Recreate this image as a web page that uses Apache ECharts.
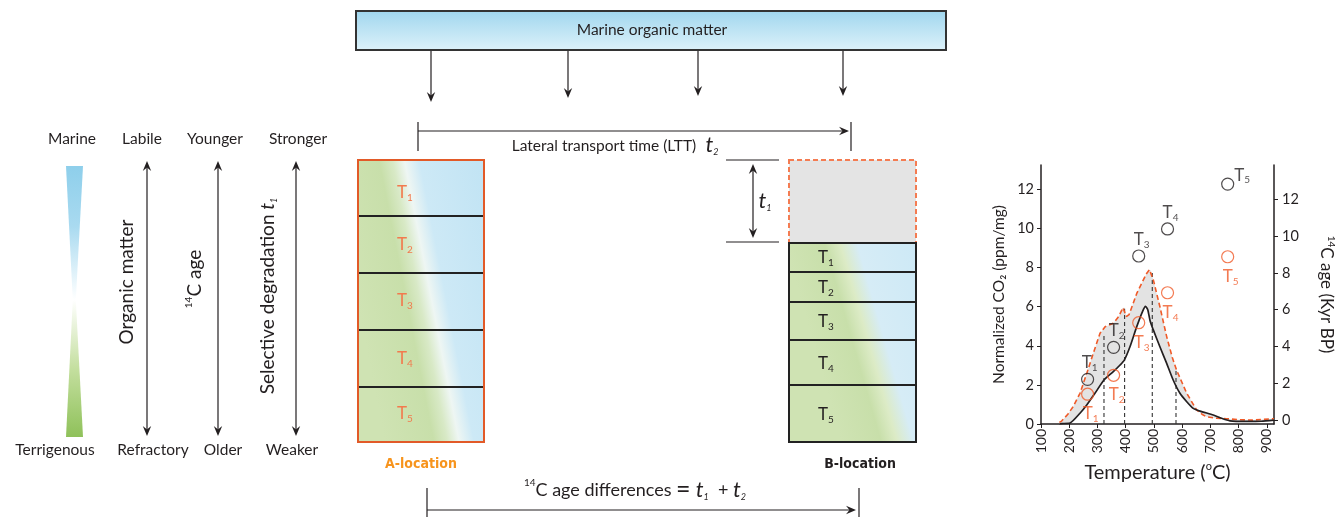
<!DOCTYPE html>
<html><head><meta charset="utf-8">
<script src="https://cdn.jsdelivr.net/npm/echarts@6/dist/echarts.min.js"></script>
<style>html,body{margin:0;padding:0;background:#fff}#c{width:1338px;height:517px}</style>
</head><body><div id="c"></div>
<script>
// ---------- data ----------
const blackTemp = [165,173,203,238,262,291,323,356,380,395,415,439,459,470,478,486,498,521,545,568,592,616,639,663,710,734,769,828,880,925];
const blackCO2  = [0,0.02,0.05,0.55,0.97,1.57,2.25,2.68,3.02,3.27,3.95,4.98,5.74,6.02,5.85,5.3,4.8,3.95,3.1,2.25,1.57,1.14,0.8,0.66,0.46,0.32,0.16,0.13,0.14,0.2];
const redTemp = [165,173,195,214,238,262,285,309,327,356,375,390,396,402,412,439,460,474,484,488,498,521,545,565,580,600,616,651,670,686,720,757,800,850,925];
const redCO2  = [0.08,0.15,0.5,0.89,1.57,2.59,3.61,4.64,4.98,5.15,5.5,5.95,5.95,5.5,5.6,6.68,7.3,7.7,7.9,7.87,7.36,6.0,4.47,3.4,2.76,2.1,1.57,0.72,0.5,0.37,0.3,0.27,0.22,0.2,0.27];
const dashTemp = [323,396,494,578];
const dashTop  = [4.6,5.9,7.8,2.8];
const sampleTemp = [265,357,446,548,761];
const sampleNames = ['1','2','3','4','5'];
const ageB = [2.21,3.95,8.92,10.39,12.83];   // black circles
const ageA = [1.40,2.43,5.29,6.92,8.88];     // orange circles
const xTicks = [100,200,300,400,500,600,700,800,900];
const yTicks = [0,2,4,6,8,10,12];

// ---------- styling ----------
const FF = 'Lato, "Open Sans", "Noto Sans", sans-serif';
const INK = '#231f20';
const ORANGE = '#f05a28';

// ---------- diagram graphic helpers ----------
const G = [];
function L(x1,y1,x2,y2,w,c,dash){ G.push({type:'line',silent:true,shape:{x1,y1,x2,y2},style:{stroke:c||INK,lineWidth:w||1.2,lineDash:dash||null}}); }
function head(x,y,dir){
  const l=10,h=4.2,n=3.5; let p;
  if(dir==='down') p=[[x,y],[x-h,y-l],[x,y-l+n],[x+h,y-l]];
  if(dir==='up') p=[[x,y],[x-h,y+l],[x,y+l-n],[x+h,y+l]];
  if(dir==='right') p=[[x,y],[x-l,y-h],[x-l+n,y],[x-l,y+h]];
  G.push({type:'polygon',silent:true,shape:{points:p},style:{fill:INK}});
}
function TX(text,x,y,o){
  o=o||{};
  G.push({type:'text',silent:true,x,y,rotation:o.rot||0,z:10,style:{text,x:0,y:0,fill:o.fill||INK,fontSize:o.size||15.5,fontFamily:o.ff||FF,fontWeight:o.weight||'normal',fontStyle:o.style||'normal',align:o.align||'center',verticalAlign:'middle',rich:o.rich||undefined}});
}
function R(x,y,w,h,style){ G.push({type:'rect',silent:true,shape:{x,y,width:w,height:h},style}); }

// left legend bar (hourglass gradient)
G.push({type:'polygon',silent:true,shape:{points:[[66,166],[83,166],[75.8,300],[72.8,300]]},style:{fill:{type:'linear',x:0,y:0,x2:0,y2:1,colorStops:[{offset:0,color:'#8ecfeb'},{offset:0.45,color:'#a9daf0'},{offset:1,color:'#ffffff'}]}}});
G.push({type:'polygon',silent:true,shape:{points:[[72.8,300],[75.8,300],[83,437],[66,437]]},style:{fill:{type:'linear',x:0,y:0,x2:0,y2:1,colorStops:[{offset:0,color:'#ffffff'},{offset:0.5,color:'#c4df9f'},{offset:1,color:'#8fc15a'}]}}});
TX('Marine',72,139); TX('Terrigenous',55,450);
TX('Labile',142,139); TX('Refractory',153,450);
TX('Younger',215,139); TX('Older',223,450);
TX('Stronger',298,139); TX('Weaker',292,450);
[147,218,296].forEach(x=>{ L(x,166,x,431,1.2); head(x,161,'up'); head(x,436,'down'); });
TX('Organic matter',127,282,{rot:Math.PI/2,size:19});
TX('{sp|14}{n|C age}',195,279,{rot:Math.PI/2,rich:{sp:{fontSize:10,fontFamily:FF,fill:INK,verticalAlign:'top',lineHeight:22},n:{fontSize:19,fontFamily:FF,fill:INK,lineHeight:22}}});
TX('{n|Selective degradation }{i|t}{s|1}',268,296,{rot:Math.PI/2,rich:{n:{fontSize:19,fontFamily:FF,fill:INK,lineHeight:22},i:{fontSize:19,fontFamily:FF,fontStyle:'italic',fill:INK,lineHeight:22},s:{fontSize:9,fontFamily:FF,fontStyle:'italic',fill:INK,verticalAlign:'bottom',lineHeight:22}}});

// marine organic matter box
R(356,11,590,39,{fill:{type:'linear',x:0,y:0,x2:0,y2:1,colorStops:[{offset:0,color:'#9fd6ee'},{offset:1,color:'#def2fa'}]},stroke:'#333',lineWidth:2});
TX('Marine organic matter',652,30,{size:15.5});
const downX=[431,568,698,843], downTip=[102,98,96,96];
downX.forEach((x,i)=>{ L(x,51,x,downTip[i]-6,1.2); head(x,downTip[i],'down'); });

// LTT arrow
L(418,122,418,151); L(851,122,851,151); L(418,131,845,131); head(849,131,'right');
TX('Lateral transport time (LTT)',604,146,{size:15.5});
TX('{i|t}{s|2}',712,145,{rich:{i:{fontSize:22,fontFamily:FF,fontStyle:'italic',fill:INK,lineHeight:24},s:{fontSize:9,fontFamily:FF,fontStyle:'italic',fill:INK,verticalAlign:'bottom',lineHeight:22}}});

// A-location column
R(358,160,126,282,{fill:{type:'linear',global:true,x:360,y:316,x2:504,y2:288,colorStops:[{offset:0,color:'#cfe3b3'},{offset:0.33,color:'#c8dfaa'},{offset:0.42,color:'#d8e9c6'},{offset:0.5,color:'#eef6f3'},{offset:0.6,color:'#cde9f6'},{offset:1,color:'#c2e4f4'}]}});
[216,273,330,387].forEach(y=>L(358,y,484,y,2,'#222'));
R(358,160,126,282,{fill:null,stroke:'#e25a28',lineWidth:2});
const tRichO={t:{fontSize:17,fontFamily:FF,fill:'#f27a4e',lineHeight:20},s:{fontSize:10,fontFamily:FF,fill:'#f27a4e',verticalAlign:'bottom',lineHeight:18}};
[193,245,301,359,414].forEach((y,i)=>TX('{t|T}{s|'+sampleNames[i]+'}',405,y,{rich:tRichO}));
TX('A-location',421,464,{size:14,weight:'bold',ff:'"DejaVu Sans Condensed","Liberation Sans Narrow",sans-serif',fill:'#f7941d'});

// B-location column
R(789,160,127,83,{fill:'#e4e4e4',stroke:'#f47c52',lineWidth:2,lineDash:[5,3]});
R(789,243,127,199,{fill:{type:'linear',global:true,x:818,y:360,x2:940,y2:325,colorStops:[{offset:0,color:'#cfe3b3'},{offset:0.3,color:'#c8dfaa'},{offset:0.42,color:'#dcebc6'},{offset:0.55,color:'#d6ecf6'},{offset:1,color:'#cde9f6'}]}});
[272,302,340,385].forEach(y=>L(789,y,916,y,2,'#222'));
R(789,243,127,199,{fill:null,stroke:'#222',lineWidth:2});
const tRichK={t:{fontSize:17,fontFamily:FF,fill:INK,lineHeight:20},s:{fontSize:10,fontFamily:FF,fill:INK,verticalAlign:'bottom',lineHeight:18}};
[258,288,322,364,415].forEach((y,i)=>TX('{t|T}{s|'+sampleNames[i]+'}',826,y,{rich:tRichK}));
TX('B-location',860,464,{size:14,weight:'bold',ff:'"DejaVu Sans Condensed","Liberation Sans Narrow",sans-serif'});
L(726,160,779,160); L(726,242,779,242);
L(753,170,753,232); head(753,164,'up'); head(753,238,'down');
TX('{i|t}{s|1}',765,201,{rich:{i:{fontSize:22,fontFamily:FF,fontStyle:'italic',fill:INK,lineHeight:24},s:{fontSize:9,fontFamily:FF,fontStyle:'italic',fill:INK,verticalAlign:'bottom',lineHeight:22}}});

// bottom arrow
L(427,488,427,517); L(859,488,859,517); L(427,510,851,510); head(856,510,'right');
TX('{sp|14}{n|C age differences }{eq|=}{i| t}{s|1}{n|  + }{i|t}{s|2}',635,490,{rich:{
  sp:{fontSize:10,fontFamily:FF,fill:INK,verticalAlign:'top',lineHeight:24},
  n:{fontSize:18,fontFamily:FF,fill:INK,lineHeight:24},
  eq:{fontSize:25,fontFamily:FF,fill:INK,lineHeight:24},
  i:{fontSize:22,fontFamily:FF,fontStyle:'italic',fill:INK,lineHeight:24},
  s:{fontSize:9,fontFamily:FF,fontStyle:'italic',fill:INK,verticalAlign:'bottom',lineHeight:22}}});

// ---------- chart ----------
const zip=(a,b)=>a.map((v,i)=>[v,b[i]]);
const labelRich = c => ({t:{fontSize:17,fontFamily:FF,color:c,lineHeight:20},s:{fontSize:10,fontFamily:FF,color:c,verticalAlign:'bottom',lineHeight:16}});
const chart = echarts.init(document.getElementById('c'));
chart.setOption({
  animation:false,
  backgroundColor:'#fff',
  textStyle:{fontFamily:FF,color:INK},
  grid:{left:1041,top:165,width:233,height:259,containLabel:false},
  xAxis:{type:'value',min:100,max:925,
    axisLine:{show:true,onZero:false,lineStyle:{color:INK,width:1.5}},
    axisTick:{show:true,customValues:xTicks,length:4,lineStyle:{color:INK}},
    axisLabel:{customValues:xTicks,rotate:90,fontSize:14,color:INK,margin:5,fontFamily:FF},
    splitLine:{show:false},
    name:'{a|Temperature (}{b|o}{a|C)}',nameLocation:'middle',nameGap:36,
    nameTextStyle:{rich:{a:{fontSize:20,fontFamily:FF,color:INK,lineHeight:22},b:{fontSize:11,fontFamily:FF,color:INK,verticalAlign:'top',lineHeight:22}}}},
  yAxis:[
    {type:'value',min:0,max:13.25,position:'left',
     axisLine:{show:true,onZero:false,lineStyle:{color:INK,width:1.5}},
     axisTick:{show:true,customValues:yTicks,length:4,lineStyle:{color:INK}},
     axisLabel:{customValues:yTicks,fontSize:14.5,color:INK,margin:7,fontFamily:FF},
     splitLine:{show:false},
     name:'Normalized CO₂ (ppm/mg)',nameLocation:'middle',nameGap:34,
     nameTextStyle:{fontSize:15.5,fontFamily:FF,color:INK}},
    {type:'value',min:-0.22,max:13.87,position:'right',
     axisLine:{show:true,onZero:false,lineStyle:{color:INK,width:1.5}},
     axisTick:{show:true,customValues:yTicks,length:4,lineStyle:{color:INK}},
     axisLabel:{customValues:yTicks,fontSize:14.5,color:INK,margin:8,fontFamily:FF},
     splitLine:{show:false},
     name:'{sp|14}{n|C age (Kyr BP)}',nameLocation:'middle',nameGap:42,nameRotate:-90,
     nameTextStyle:{rich:{sp:{fontSize:10,fontFamily:FF,color:INK,verticalAlign:'top',lineHeight:20},n:{fontSize:17,fontFamily:FF,color:INK,lineHeight:20}}}}
  ],
  series:[
    {type:'custom',silent:true,z:1,data:[[redTemp[0],redCO2[0]]],
     renderItem:function(params,api){
       const pts=[];
       for(let i=0;i<redTemp.length;i++) pts.push(api.coord([redTemp[i],redCO2[i]]));
       for(let i=blackTemp.length-1;i>=0;i--) pts.push(api.coord([blackTemp[i],blackCO2[i]]));
       return {type:'polygon',shape:{points:pts},style:{fill:'#e3e3e3'}};
     }},
    {type:'custom',silent:true,z:2,data:zip(dashTemp,dashTop),
     renderItem:function(params,api){
       const a=api.coord([api.value(0),0]), b=api.coord([api.value(0),api.value(1)]);
       return {type:'line',shape:{x1:a[0],y1:a[1],x2:b[0],y2:b[1]},style:{stroke:'#333',lineWidth:1.1,lineDash:[4,3]}};
     }},
    {type:'line',z:3,data:zip(redTemp,redCO2),showSymbol:false,silent:true,
     lineStyle:{color:ORANGE,width:1.6,type:[5,3]}},
    {type:'line',z:4,data:zip(blackTemp,blackCO2),showSymbol:false,silent:true,smooth:0.2,
     lineStyle:{color:INK,width:1.7}},
    {type:'scatter',z:5,yAxisIndex:1,symbol:'circle',symbolSize:12,silent:true,
     data:sampleTemp.map((t,i)=>({value:[t,ageB[i]],name:sampleNames[i],
        label:{position:i===4?'right':'top',offset:i===4?[-2,-9]:(i===0?[2,2]:[3,2])}})),
     itemStyle:{color:'rgba(255,255,255,0)',borderColor:INK,borderWidth:1.2},
     label:{show:true,distance:2,formatter:p=>'{t|T}{s|'+p.name+'}',rich:labelRich(INK)}},
    {type:'scatter',z:5,yAxisIndex:1,symbol:'circle',symbolSize:12,silent:true,
     data:sampleTemp.map((t,i)=>({value:[t,ageA[i]],name:sampleNames[i]})),
     itemStyle:{color:'rgba(255,255,255,0)',borderColor:ORANGE,borderWidth:1.2},
     label:{show:true,position:'bottom',distance:3,offset:[3,0],formatter:p=>'{t|T}{s|'+p.name+'}',rich:labelRich(ORANGE)}}
  ],
  graphic:{elements:G}
});
</script></body></html>
